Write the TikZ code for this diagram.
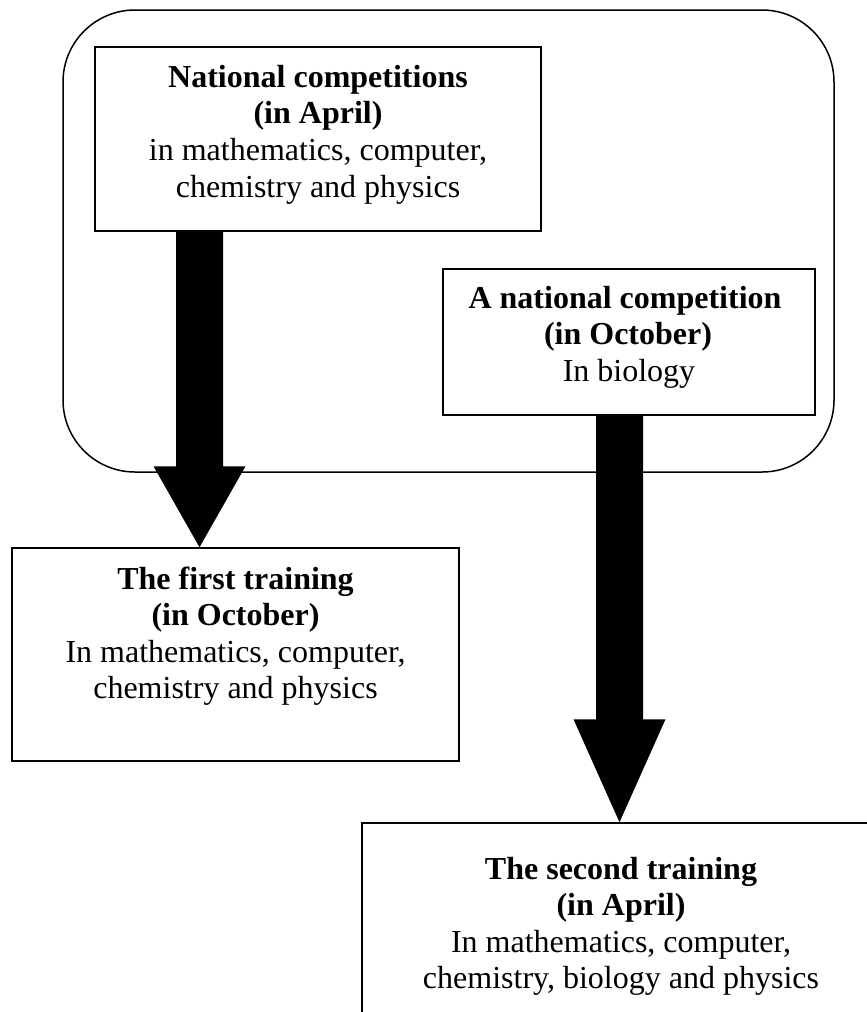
\documentclass[tikz,border=0pt]{standalone}
\usepackage{fontspec}
\setmainfont{Liberation Serif}
\usetikzlibrary{calc}
\tikzset{
  box/.style={draw=black, line width=1.5pt, inner sep=0pt},
  group/.style={draw=black, line width=1.5pt, rounded corners=72pt, inner sep=0pt},
  txt/.style={anchor=base, inner sep=0pt, font=\fontsize{32}{36.8}\selectfont},
  btxt/.style={txt, font=\fontsize{32}{36.8}\selectfont\bfseries},
}
\newcommand\fatarrow[3]{%
  \fill[black] ($(#1)+(-23.5,0)$) -- ($(#2)+(-23.5,-#3)$) -- ($(#2)+(-46,-#3)$) -- (#2)
    -- ($(#2)+(46,-#3)$) -- ($(#2)+(23.5,-#3)$) -- ($(#1)+(23.5,0)$) -- cycle;}
\begin{document}
\begin{tikzpicture}[x=1pt,y=-1pt]
\useasboundingbox (0,0) rectangle (867,1012);
\clip (0,0) rectangle (867,1012);
\fill[white] (0,0) rectangle (867,1012);

% container
\node[group, minimum width=771pt, minimum height=462pt] (grp) at (448.5,241) {};

% boxes
\node[box, minimum width=446pt, minimum height=184pt] (nat) at (318,139) {};
\node[box, minimum width=372pt, minimum height=146pt] (bio) at (629,342) {};
\node[box, minimum width=447pt, minimum height=213pt] (train1) at (235.5,654.5) {};
\node[box, minimum width=518pt, minimum height=237pt] (train2) at (621,941.5) {};

% texts
\node[btxt] (nat1) at (318,87) {National competitions};
\node[btxt] (nat2) at (318,123.8) {(in April)};
\node[txt]  (nat3) at (318,160.6) {in mathematics, computer,};
\node[txt]  (nat4) at (318,197.4) {chemistry and physics};

\node[btxt] (bio1) at (625,308) {A national competition};
\node[btxt] (bio2) at (628,344.5) {(in October)};
\node[txt]  (bio3) at (629,381) {In biology};

\node[btxt] (t1a) at (235.5,589) {The first training};
\node[btxt] (t1b) at (235.5,625.8) {(in October)};
\node[txt]  (t1c) at (235.5,662.2) {In mathematics, computer,};
\node[txt]  (t1d) at (235.5,698.6) {chemistry and physics};

\node[btxt] (t2a) at (621,879) {The second training};
\node[btxt] (t2b) at (621,915.5) {(in April)};
\node[txt]  (t2c) at (621,952) {In mathematics, computer,};
\node[txt]  (t2d) at (621,988.4) {chemistry, biology and physics};

% arrows
\coordinate (a1s) at ($(nat.south)+(-118.5,0)$);
\coordinate (a1e) at (a1s |- train1.north);
\fatarrow{a1s}{a1e}{81}
\coordinate (a2s) at ($(bio.south)+(-9.5,0)$);
\coordinate (a2e) at (a2s |- train2.north);
\fatarrow{a2s}{a2e}{103}
\end{tikzpicture}
\end{document}
